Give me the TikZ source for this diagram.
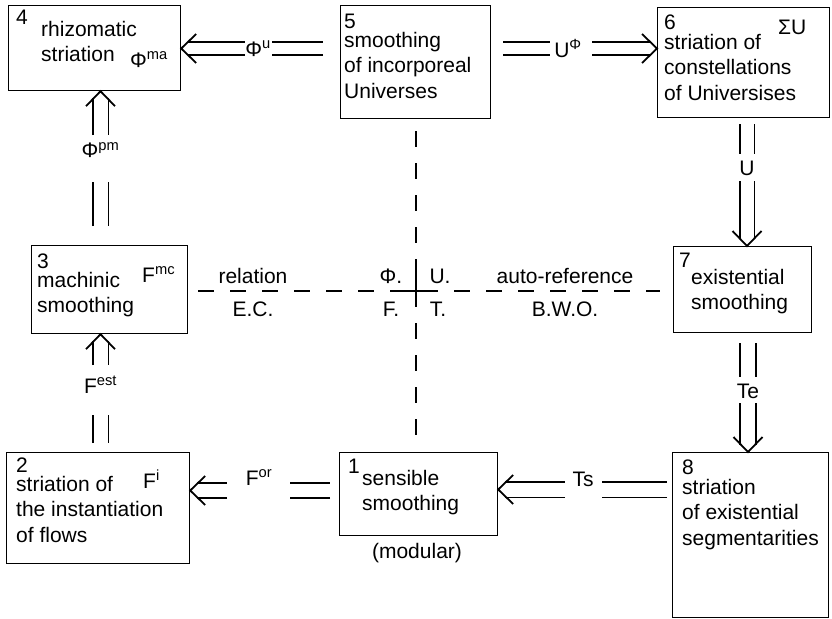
\documentclass[tikz,border=0pt]{standalone}
\usepackage{fontspec}
\setmainfont{Liberation Sans}
\tikzset{
  box/.style={draw,line width=1.2pt,inner sep=0pt,anchor=north west},
  txt/.style={font=\fontsize{21pt}{25.5pt}\selectfont,align=left,inner sep=0pt,anchor=north west,execute at begin node={\rule{0pt}{16pt}}},
  num/.style={font=\fontsize{21pt}{25.5pt}\selectfont,inner sep=0pt,anchor=base west},
  lbl/.style={font=\fontsize{21pt}{25.5pt}\selectfont,inner sep=0pt},
  dbl/.style={double,double distance=#1,line width=1.8pt},
  dbl/.default=11pt,
  hd/.style={shorten >=7pt},
  vhd/.pic={\draw[line width=1.8pt] (15,-14.5) -- (0,0) -- (15,14.5);},
  dsh/.style={line width=2.4pt,dash pattern=on 16pt off 16pt}
}
\begin{document}
\begin{tikzpicture}[x=1pt,y=-1pt]
\useasboundingbox (0,0) rectangle (832,618);
% boxes
\node[box,minimum width=172pt,minimum height=85pt]  (b4) at (8,5) {};
\node[box,minimum width=150pt,minimum height=113pt] (b5) at (340,5) {};
\node[box,minimum width=172pt,minimum height=110pt] (b6) at (657,7) {};
\node[box,minimum width=138pt,minimum height=86pt]  (b7) at (673,246) {};
\node[box,minimum width=156pt,minimum height=88pt]  (b3) at (31,245) {};
\node[box,minimum width=183pt,minimum height=111pt] (b2) at (6,452) {};
\node[box,minimum width=158pt,minimum height=83pt]  (b1) at (339,452) {};
\node[box,minimum width=156pt,minimum height=165pt] (b8) at (672,452) {};
% box texts
\node[num] (n4) at (16,25) {4};
\node[txt] (t4) at (41,21) {rhizomatic\\striation};
\node[num] (s4) at (130,67) {Φ\textsuperscript{ma}};
\node[num] (n5) at (344,29) {5};
\node[txt] (t5) at (344,32) {smoothing\\of incorporeal\\Universes};
\node[num] (n6) at (664,30) {6};
\node[txt] (t6) at (664,34) {striation of\\constellations\\of Universises};
\node[num] (s6) at (778,35) {ΣU};
\node[num] (n7) at (679,267) {7};
\node[txt] (t7) at (691,269) {existential\\smoothing};
\node[num] (n3) at (37,268) {3};
\node[txt] (t3) at (37,272) {machinic\\smoothing};
\node[num] (s3) at (142,282) {F\textsuperscript{mc}};
\node[num] (n2) at (16,472) {2};
\node[txt] (t2) at (16,476) {striation of\\the instantiation\\of flows};
\node[num] (s2) at (143,488) {F\textsuperscript{i}};
\node[num] (n1) at (348,473) {1};
\node[txt] (t1) at (362,470) {sensible\\smoothing};
\node[lbl,anchor=base] (md) at (417,558) {(modular)};
\node[num] (n8) at (682,474) {8};
\node[txt] (t8) at (682,479) {striation\\of existential\\segmentarities};
% arrows with labels
\coordinate (a1) at (258,48.5);
\node[lbl] (l1) at (a1) {Φ\textsuperscript{u}};
\draw[dbl,shorten <=17pt] (a1 -| b5.west) -- ([xshift=14pt]a1);
\draw[dbl,hd] ([xshift=-13pt]a1) -- (a1 -| b4.east);
\pic at (a1 -| b4.east) {vhd};
\coordinate (a2) at (568,48.5);
\node[lbl] (l2) at (a2) {U\textsuperscript{Φ}};
\draw[dbl,shorten <=12pt] (a2 -| b5.east) -- ([xshift=-18pt]a2);
\draw[dbl,hd] ([xshift=24pt]a2) -- (a2 -| b6.west);
\pic[rotate=180] at (a2 -| b6.west) {vhd};
\coordinate (a3) at (100.5,150);
\node[lbl] (l3) at (a3) {Φ\textsuperscript{pm}};
\draw[dbl=14pt,hd] ([yshift=15pt]a3) -- (a3 |- b4.south);
\pic[rotate=-90] at (a3 |- b4.south) {vhd};
\draw[dbl=14pt,shorten <=19pt] (a3 |- b3.north) -- ([yshift=-32pt]a3);
\coordinate (a4) at (100.5,385);
\node[lbl] (l4) at (a4) {F\textsuperscript{est}};
\draw[dbl=14pt,hd] ([yshift=20pt]a4) -- (a4 |- b3.south);
\pic[rotate=-90] at (a4 |- b3.south) {vhd};
\draw[dbl=14pt,shorten <=9pt] (a4 |- b2.north) -- ([yshift=-30pt]a4);
\coordinate (a5) at (747,168);
\node[lbl] (l5) at (a5) {U};
\draw[dbl=13pt,shorten <=6pt] (a5 |- b6.south) -- ([yshift=14pt]a5);
\draw[dbl=13pt,hd] ([yshift=-13pt]a5) -- (a5 |- b7.north);
\pic[rotate=90] at (a5 |- b7.north) {vhd};
\coordinate (a6) at (748,391);
\node[lbl] (l6) at (a6) {Te};
\draw[dbl=14pt,shorten <=10pt] (a6 |- b7.south) -- ([yshift=14pt]a6);
\draw[dbl=14pt,hd] ([yshift=-12pt]a6) -- (a6 |- b8.north);
\pic[rotate=90] at (a6 |- b8.north) {vhd};
\coordinate (a7) at (583,489.5);
\node[lbl] (l7) at ([yshift=10pt]a7) {Ts};
\draw[dbl=14pt,shorten <=5pt] (a7 -| b8.west) -- ([xshift=19pt]a7);
\draw[dbl=14pt,hd] ([xshift=-18pt]a7) -- (a7 -| b1.east);
\pic at (a7 -| b1.east) {vhd};
\coordinate (a8) at (259,490.5);
\node[lbl] (l8) at ([yshift=13pt]a8) {F\textsuperscript{or}};
\draw[dbl=13pt,shorten <=9pt] (a8 -| b1.west) -- ([xshift=31pt]a8);
\draw[dbl=13pt,hd] ([xshift=-32pt]a8) -- (a8 -| b2.east);
\pic at (a8 -| b2.east) {vhd};
% dashed cross
\coordinate (cr) at (416,291);
\draw[dsh,shorten <=10pt,shorten >=13pt] (b3.east |- cr) -- (b7.west |- cr);
\draw[dsh,shorten <=12pt,shorten >=8pt] (b5.south -| cr) -- (b1.north -| cr);
\draw[line width=2.4pt] ([xshift=-11pt]cr) -- ([xshift=13pt]cr) (cr) -- ([yshift=16pt]cr);
\node[lbl,anchor=base] (r1) at (253,283) {relation};
\node[lbl,anchor=base] (r2) at (253,316) {E.C.};
\node[lbl,anchor=base] (r3) at (391,283) {Φ.};
\node[lbl,anchor=base] (r4) at (440,283) {U.};
\node[lbl,anchor=base] (r5) at (391,316) {F.};
\node[lbl,anchor=base] (r6) at (438,316) {T.};
\node[lbl,anchor=base] (r7) at (565,283) {auto-reference};
\node[lbl,anchor=base] (r8) at (565,316) {B.W.O.};
\end{tikzpicture}
\end{document}
